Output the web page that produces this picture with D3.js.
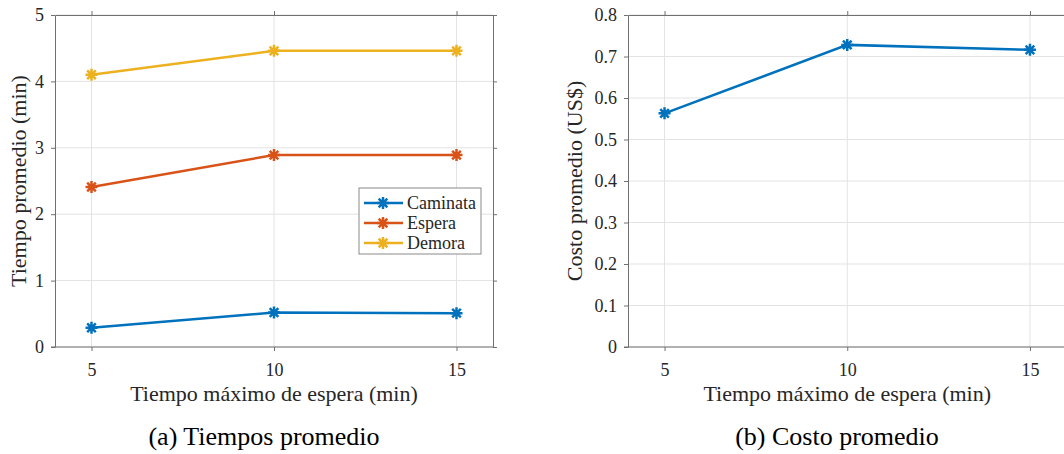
<!DOCTYPE html>
<html>
<head>
<meta charset="utf-8">
<script src="https://cdn.jsdelivr.net/npm/d3@7"></script>
<style>
	html, body { margin: 0; padding: 0; background: #fff; }
	svg text { font-family: 'Liberation Serif', 'Times New Roman', serif; fill: #262626; }
</style>
</head>
<body>
<div id="chart"></div>
<script>
	'use strict';

	// data
	var waitTimes = [5, 10, 15];
	var seriesNames = ['Caminata', 'Espera', 'Demora'];
	var caminata = [0.29, 0.52, 0.51];
	var espera = [2.41, 2.89, 2.89];
	var demora = [4.10, 4.46, 4.46];
	var costo = [0.563, 0.728, 0.716];

	var xTicks = [5, 10, 15];
	var leftYTicks = [0, 1, 2, 3, 4, 5];
	var rightYTicks = [0, 0.1, 0.2, 0.3, 0.4, 0.5, 0.6, 0.7, 0.8];

	var colors = ['#0072BD', '#D95319', '#EDB120'];

	var width = 1064;
	var height = 454;
	var tickLen = 4;
	var axisColor = '#707070';
	var gridColor = '#e3e3e3';
	var lineWidth = 2.5;

	var svg = d3.select('#chart')
		.append('svg')
		.attr('width', width)
		.attr('height', height);

	function star(r) {
		var d = r * 0.72;
		return 'M' + (-r) + ',0L' + r + ',0M0,' + (-r) + 'L0,' + r +
			'M' + (-d) + ',' + (-d) + 'L' + d + ',' + d +
			'M' + (-d) + ',' + d + 'L' + d + ',' + (-d);
	}

	function panel(opt) {
		var x = d3.scaleLinear().domain([4, 16]).range([opt.left, opt.right]);
		var y = d3.scaleLinear().domain(opt.yDomain).range([opt.bottom, opt.top]);
		var g = svg.append('g');

		// grid
		g.selectAll('line.vgrid')
			.data(xTicks)
			.enter()
			.append('line')
			.attr('class', 'vgrid')
			.attr('x1', function (d) { return x(d); })
			.attr('x2', function (d) { return x(d); })
			.attr('y1', opt.top)
			.attr('y2', opt.bottom)
			.attr('stroke', gridColor);

		g.selectAll('line.hgrid')
			.data(opt.yTicks)
			.enter()
			.append('line')
			.attr('class', 'hgrid')
			.attr('x1', opt.left)
			.attr('x2', opt.right)
			.attr('y1', function (d) { return y(d); })
			.attr('y2', function (d) { return y(d); })
			.attr('stroke', gridColor);

		// axes, ticks outward on all four sides
		var bottom = g.append('g')
			.attr('transform', 'translate(0,' + opt.bottom + ')')
			.call(d3.axisBottom(x).tickValues(xTicks).tickSize(tickLen).tickPadding(12).tickSizeOuter(0));
		var top = g.append('g')
			.attr('transform', 'translate(0,' + opt.top + ')')
			.call(d3.axisTop(x).tickValues(xTicks).tickSize(tickLen).tickFormat('').tickSizeOuter(0));
		var left = g.append('g')
			.attr('transform', 'translate(' + opt.left + ',0)')
			.call(d3.axisLeft(y).tickValues(opt.yTicks).tickSize(tickLen).tickPadding(7).tickFormat(opt.fmt).tickSizeOuter(0));
		var right = g.append('g')
			.attr('transform', 'translate(' + opt.right + ',0)')
			.call(d3.axisRight(y).tickValues(opt.yTicks).tickSize(tickLen).tickFormat('').tickSizeOuter(0));

		[bottom, top, left, right].forEach(function (a) {
			a.attr('font-family', null);
			a.selectAll('path, line').attr('stroke', axisColor);
			a.selectAll('text')
				.style('font-size', '18px')
				.attr('fill', '#262626');
		});
		bottom.select('path.domain').attr('d', 'M' + (opt.left - tickLen) + ',0H' + opt.right);

		// series
		var line = d3.line()
			.x(function (d, i) { return x(waitTimes[i]); })
			.y(function (d) { return y(d); });

		opt.series.forEach(function (s, k) {
			g.append('path')
				.datum(s)
				.attr('d', line)
				.attr('fill', 'none')
				.attr('stroke', colors[k])
				.attr('stroke-width', lineWidth);

			g.selectAll('path.m' + k)
				.data(s)
				.enter()
				.append('path')
				.attr('class', 'm' + k)
				.attr('d', star(6))
				.attr('transform', function (d, i) {
					return 'translate(' + x(waitTimes[i]) + ',' + y(d) + ')';
				})
				.attr('stroke', colors[k])
				.attr('stroke-width', lineWidth)
				.attr('fill', 'none');
		});

		// labels
		g.append('text')
			.text(opt.xLabel)
			.attr('text-anchor', 'middle')
			.attr('x', (opt.left + opt.right) / 2)
			.attr('y', 401)
			.style('font-size', '22px');

		g.append('text')
			.text(opt.yLabel)
			.attr('text-anchor', 'middle')
			.attr('transform', 'translate(' + opt.yLabelX + ',' + (opt.top + opt.bottom) / 2 + '),rotate(-90)')
			.style('font-size', '22px');

		g.append('text')
			.text(opt.caption)
			.attr('text-anchor', 'middle')
			.attr('x', opt.captionX)
			.attr('y', 445)
			.style('font-size', '26px')
			.style('fill', '#000');

		return {x: x, y: y, g: g};
	}

	var a = panel({
		left: 55, right: 493, top: 15, bottom: 347,
		yDomain: [0, 5], yTicks: leftYTicks, fmt: d3.format('d'),
		series: [caminata, espera, demora],
		xLabel: 'Tiempo máximo de espera (min)',
		yLabel: 'Tiempo promedio (min)', yLabelX: 26,
		caption: '(a) Tiempos promedio', captionX: 264
	});

	panel({
		left: 628, right: 1066.5, top: 15, bottom: 347,
		yDomain: [0, 0.8], yTicks: rightYTicks, fmt: function (d) { return d === 0 ? '0' : d3.format('.1f')(d); },
		series: [costo],
		xLabel: 'Tiempo máximo de espera (min)',
		yLabel: 'Costo promedio (US$)', yLabelX: 582,
		caption: '(b) Costo promedio', captionX: 837
	});

	// legend
	var lg = a.g.append('g').attr('transform', 'translate(359,188)');
	lg.append('rect')
		.attr('width', 122)
		.attr('height', 66)
		.attr('fill', '#fff')
		.attr('stroke', '#8a8a8a');

	var entry = lg.selectAll('g.entry')
		.data(seriesNames)
		.enter()
		.append('g')
		.attr('class', 'entry')
		.attr('transform', function (d, i) {
			return 'translate(0,' + (15 + 20 * i) + ')';
		});

	entry.append('line')
		.attr('x1', 5)
		.attr('x2', 44)
		.attr('stroke', function (d, i) { return colors[i]; })
		.attr('stroke-width', lineWidth);

	entry.append('path')
		.attr('d', star(6))
		.attr('transform', 'translate(24,0)')
		.attr('stroke', function (d, i) { return colors[i]; })
		.attr('stroke-width', lineWidth)
		.attr('fill', 'none');

	entry.append('text')
		.text(function (d) { return d; })
		.attr('x', 48)
		.attr('y', 6)
		.style('font-size', '18px');
</script>
</body>
</html>
